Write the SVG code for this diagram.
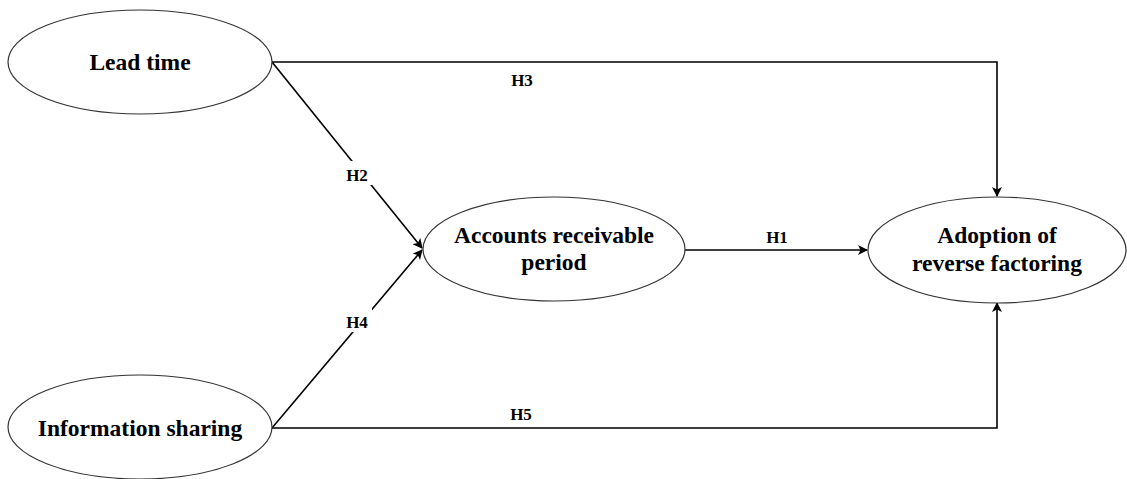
<svg xmlns="http://www.w3.org/2000/svg" width="1127" height="479" viewBox="0 0 1127 479">
<style>
.node{fill:#fff;stroke:#333;stroke-width:1.2}
.t{font-family:"Liberation Serif",serif;font-weight:bold;font-size:23.5px;text-anchor:middle;fill:#000}
.lbl{font-family:"Liberation Serif",serif;font-weight:bold;font-size:17px;text-anchor:middle;fill:#000}
.c{fill:none;stroke:#000;stroke-width:1.6}
</style>
<defs>
<marker id="arr" markerWidth="10" markerHeight="10" refX="9" refY="5" orient="auto" markerUnits="userSpaceOnUse" viewBox="0 0 10 10">
<path d="M0,0 L10,5 L0,10 L2.5,5 Z" fill="#000"/>
</marker>
</defs>
<g id="connectors">
<path class="c" d="M272,62 H997 V196" marker-end="url(#arr)"/>
<path class="c" d="M272,62 L422,248" marker-end="url(#arr)"/>
<path class="c" d="M272,428 L422,250" marker-end="url(#arr)"/>
<path class="c" d="M685,250 H867" marker-end="url(#arr)"/>
<path class="c" d="M272,428 H997 V303" marker-end="url(#arr)"/>
<rect x="343" y="161" width="29" height="24" fill="#fff"/>
<rect x="343" y="308" width="29" height="24" fill="#fff"/>
<text class="lbl" x="357" y="181">H2</text>
<text class="lbl" x="357" y="328">H4</text>
<text class="lbl" x="522" y="86">H3</text>
<text class="lbl" x="777" y="243">H1</text>
<text class="lbl" x="521" y="420">H5</text>
</g>
<g id="lead-time">
<ellipse class="node" cx="140" cy="62" rx="132" ry="52"/>
<text class="t" x="140" y="70">Lead time</text>
</g>
<g id="information-sharing">
<ellipse class="node" cx="140" cy="427" rx="132" ry="52"/>
<text class="t" x="140" y="436">Information sharing</text>
</g>
<g id="accounts-receivable">
<ellipse class="node" cx="554" cy="249" rx="131" ry="52"/>
<text class="t" x="554" y="243">Accounts receivable</text>
<text class="t" x="554" y="270">period</text>
</g>
<g id="adoption">
<ellipse class="node" cx="997" cy="250" rx="129" ry="53"/>
<text class="t" x="997" y="243">Adoption of</text>
<text class="t" x="997" y="271">reverse factoring</text>
</g>
</svg>
